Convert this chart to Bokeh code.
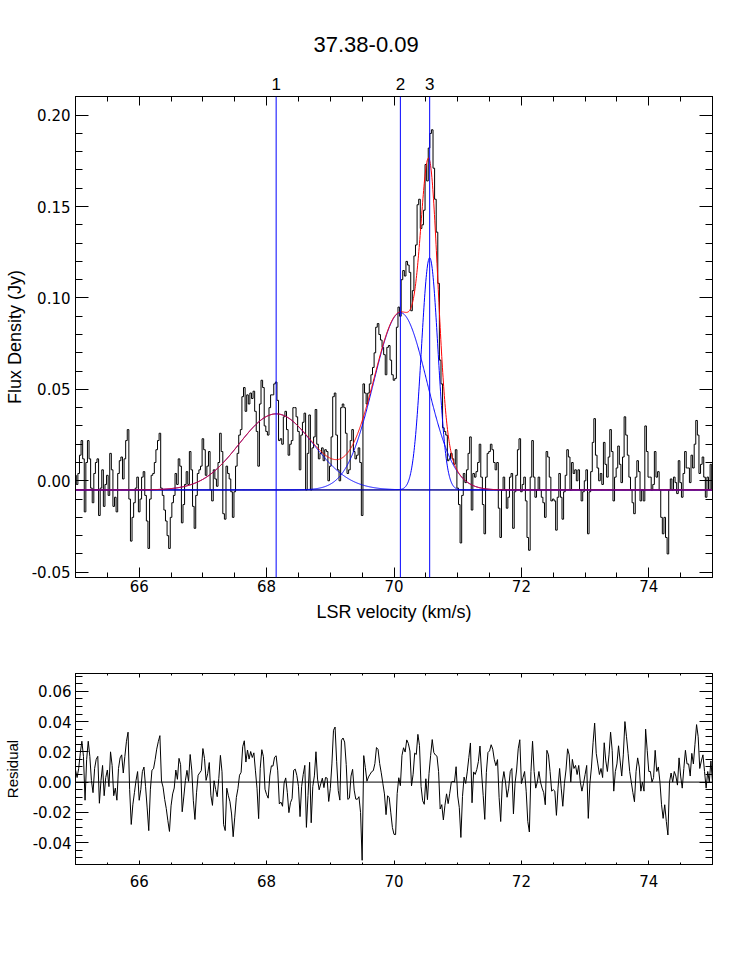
import numpy as np
from bokeh.plotting import figure
from bokeh.models import (Range1d, SingleIntervalTicker, FixedTicker, LinearAxis,
                          NumeralTickFormatter, Span)
from bokeh.layouts import column
from bokeh.embed import file_html
from bokeh.resources import INLINE

# ---------------- data ----------------
V_START = 65.0          # km/s, first channel
CHAN_WIDTH = 0.025      # km/s per channel

flux_65 = [0.003, -0.002, 0.004, 0.014, 0.022, 0.012, -0.017, 0.010, 0.022, 0.012,
           -0.004, -0.012, 0.004, 0.010, 0.012, -0.019, -0.004, 0.006, -0.014, -0.002,
           0.003, -0.008, 0.015, 0.006, -0.014, -0.009, -0.017, 0.004, 0.011, 0.013,
           0.001, 0.012, 0.022, 0.028, -0.010, -0.033, -0.020, -0.012, -0.004, 0.002]
flux_66 = [-0.017, -0.010, 0.002, 0.005, -0.008, -0.022, -0.037, -0.010, 0.003, 0.004,
           0.010, 0.017, 0.022, 0.026, -0.004, -0.008, -0.016, -0.022, -0.030, -0.037,
           -0.020, -0.012, -0.008, 0.004, -0.002, 0.012, 0.008, -0.023, -0.013, -0.002,
           0.005, -0.002, 0.016, 0.006, -0.014, -0.026, -0.008, 0.004, 0.006, 0.008]
flux_67 = [0.023, 0.017, 0.003, 0.008, 0.016, -0.005, -0.011, 0.006, 0.001, -0.003,
           0.010, 0.026, 0.016, -0.018, -0.021, 0.008, 0.004, 0.001, -0.006, -0.020,
           -0.006, 0.008, 0.015, 0.025, 0.028, 0.046, 0.051, 0.038, 0.047, 0.042,
           0.048, 0.045, 0.049, 0.038, 0.027, 0.008, 0.042, 0.055, 0.051, 0.030]
flux_68 = [0.027, 0.025, 0.040, 0.047, 0.047, 0.053, 0.054, 0.044, 0.022, 0.023,
           0.020, 0.035, 0.038, 0.028, 0.014, 0.020, 0.022, 0.040, 0.040, 0.035,
           0.027, 0.006, 0.025, 0.032, 0.037, -0.005, 0.015, 0.036, -0.005, 0.018,
           0.024, 0.039, 0.020, 0.012, 0.015, 0.018, 0.011, 0.017, 0.016, 0.000]
flux_69 = [0.008, 0.024, 0.046, 0.048, 0.025, 0.006, 0.000, 0.040, 0.042, 0.040,
           0.026, 0.004, 0.006, 0.022, 0.028, 0.016, 0.012, 0.014, 0.018, 0.010,
           -0.019, 0.053, 0.048, 0.042, 0.048, 0.053, 0.058, 0.062, 0.070, 0.084,
           0.086, 0.080, 0.077, 0.073, 0.069, 0.058, 0.073, 0.074, 0.066, 0.058]
flux_70 = [0.055, 0.056, 0.084, 0.095, 0.090, 0.110, 0.115, 0.112, 0.120, 0.118,
           0.114, 0.093, 0.104, 0.123, 0.129, 0.151, 0.154, 0.138, 0.140, 0.148,
           0.173, 0.164, 0.182, 0.190, 0.192, 0.171, 0.154, 0.136, 0.108, 0.066,
           0.053, 0.029, 0.027, 0.025, 0.011, 0.012, 0.015, 0.012, 0.009, 0.017]
flux_71 = [-0.004, -0.013, -0.034, -0.008, 0.004, -0.001, 0.006, 0.015, 0.024, -0.016,
           0.004, 0.002, 0.005, 0.010, 0.020, 0.002, -0.013, -0.029, 0.002, 0.015,
           0.016, 0.020, 0.017, 0.010, 0.006, 0.010, -0.015, -0.031, -0.005, 0.002,
           -0.005, -0.015, -0.009, 0.002, 0.004, -0.026, -0.006, 0.003, 0.017, 0.023]
flux_72 = [-0.006, -0.002, 0.002, -0.011, -0.031, -0.038, 0.002, 0.022, 0.002, -0.009,
           -0.005, 0.002, -0.005, -0.009, -0.012, -0.020, 0.016, 0.013, 0.002, -0.011,
           -0.010, -0.011, -0.027, -0.009, 0.004, -0.009, -0.021, -0.006, 0.003, 0.017,
           0.013, -0.005, 0.010, 0.004, 0.006, 0.000, 0.006, -0.005, -0.011, -0.006]
flux_73 = [0.000, 0.006, -0.029, -0.006, 0.005, 0.021, 0.034, 0.014, 0.007, 0.000,
           0.004, -0.002, 0.021, 0.009, 0.002, 0.013, 0.028, 0.016, -0.011, 0.002,
           0.007, 0.019, 0.009, -0.001, 0.013, 0.035, 0.025, 0.014, 0.002, -0.005,
           -0.012, -0.018, 0.002, 0.011, 0.005, -0.011, -0.005, -0.011, 0.030, 0.016]
flux_74 = [0.002, 0.002, -0.005, -0.002, 0.016, 0.002, 0.005, -0.005, -0.020, -0.029,
           -0.020, -0.031, -0.040, -0.005, 0.001, -0.005, 0.002, -0.001, -0.007, 0.011,
           -0.001, -0.009, 0.004, 0.016, 0.007, 0.007, -0.001, 0.014, 0.007, 0.020,
           0.033, 0.025, 0.004, 0.009, 0.013, 0.002, -0.009, 0.002, -0.005, 0.009]
flux_75 = [-0.005]

# Gaussian fit: baseline + three components
baseline = -0.005
comp_labels = ["1", "2", "3"]
comp_center = [68.15, 70.10, 70.56]
comp_amp = [0.0416, 0.097, 0.127]
comp_sigma = [0.58, 0.42, 0.13]

title_text = "37.38-0.09"
x_label = "LSR velocity (km/s)"
y_label_top = "Flux Density (Jy)"
y_label_bottom = "Residual"

# axis ranges and tick spacing
X_RANGE = (65.0, 75.0)
Y_RANGE_TOP = (-0.0529, 0.2102)
Y_RANGE_RES = (-0.0545, 0.0718)
X_MAJOR, X_MINOR = 2.0, 0.5
YT_MAJOR, YT_MINOR = 0.05, 0.01
YR_MAJOR, YR_MINOR = 0.02, 0.005

# ---------------- derived ----------------
flux = np.array(flux_65 + flux_66 + flux_67 + flux_68 + flux_69 + flux_70 +
                flux_71 + flux_72 + flux_73 + flux_74 + flux_75)
vel = V_START + CHAN_WIDTH * np.arange(len(flux))


def gauss(v, a, c, s):
    return a * np.exp(-0.5 * ((v - c) / s) ** 2)


vfine = np.linspace(X_RANGE[0], X_RANGE[1], 2001)
comps_fine = [baseline + gauss(vfine, a, c, s)
              for a, c, s in zip(comp_amp, comp_center, comp_sigma)]
model_fine = baseline + sum(gauss(vfine, a, c, s)
                            for a, c, s in zip(comp_amp, comp_center, comp_sigma))
model_chan = baseline + sum(gauss(vel, a, c, s)
                            for a, c, s in zip(comp_amp, comp_center, comp_sigma))
resid = flux - model_chan

FONT = "Liberation Sans"
TICK_FONT = "DejaVu Sans"
TICK_FS = "15px"


def style_axis(ax, tick_len, minor_len, standoff, label_fs, show_labels=True):
    ax.axis_line_color = "black"
    ax.axis_line_width = 1
    ax.major_tick_line_color = "black"
    ax.minor_tick_line_color = "black"
    ax.major_tick_in = tick_len
    ax.major_tick_out = 0
    ax.minor_tick_in = minor_len
    ax.minor_tick_out = 0
    ax.major_label_text_font = TICK_FONT
    ax.major_label_text_color = "black"
    ax.major_label_standoff = standoff
    ax.major_label_text_font_size = TICK_FS if show_labels else "0px"
    ax.axis_label_text_font = FONT
    ax.axis_label_text_font_size = label_fs
    ax.axis_label_text_font_style = "normal"
    ax.axis_label_text_color = "black"


def x_ticker():
    return SingleIntervalTicker(interval=X_MAJOR, num_minor_ticks=int(round(X_MAJOR / X_MINOR)))


# ---------------- top panel ----------------
p1 = figure(frame_width=637, frame_height=481,
            x_range=Range1d(*X_RANGE), y_range=Range1d(*Y_RANGE_TOP),
            output_backend="svg", toolbar_location=None,
            min_border_left=74, min_border_right=20, min_border_top=96,
            min_border_bottom=63, title=title_text)
p1.grid.visible = False
p1.outline_line_color = "black"
p1.title.align = "left"
p1.title.offset = 238
p1.title.text_font = FONT
p1.title.text_font_size = "22px"
p1.title.text_font_style = "normal"
p1.title.text_color = "black"
p1.title.standoff = 45

xt1 = x_ticker()
yt1 = SingleIntervalTicker(interval=YT_MAJOR, num_minor_ticks=int(round(YT_MAJOR / YT_MINOR)))
xa = p1.xaxis[0]
xa.ticker = xt1
style_axis(xa, 10, 5, 2, "18px")
xa.axis_label = x_label
xa.axis_label_standoff = 7
ya = p1.yaxis[0]
ya.ticker = yt1
ya.formatter = NumeralTickFormatter(format="0.00")
style_axis(ya, 13, 7, 5, "18px")
ya.axis_label = y_label_top
ya.axis_label_standoff = 4

# mirrored tick axes (ticks only) on the right and top edges
right1 = LinearAxis(ticker=yt1)
style_axis(right1, 13, 7, 0, "15px", show_labels=False)
p1.add_layout(right1, "right")
top1 = LinearAxis(ticker=xt1)
style_axis(top1, 9, 5, 0, "15px", show_labels=False)
p1.add_layout(top1, "above")

lab1 = LinearAxis(ticker=FixedTicker(ticks=comp_center, minor_ticks=[]),
                  major_label_overrides={c: l for c, l in zip(comp_center, comp_labels)})
style_axis(lab1, 0, 0, 7, "15px")
lab1.major_label_text_font = FONT
lab1.major_label_text_font_size = "17px"
lab1.axis_line_color = None
lab1.major_tick_line_color = None
lab1.minor_tick_line_color = None
p1.add_layout(lab1, "above")

p1.add_layout(Span(location=baseline, dimension="width", line_color="black",
                   line_width=1, level="underlay"))
p1.step(vel, flux, mode="center", line_color="black", line_width=1)
for cf in comps_fine:
    p1.line(vfine, cf, line_color="blue", line_width=1)
p1.line(vfine, model_fine, line_color="red", line_width=1)
for c in comp_center:
    p1.add_layout(Span(location=c, dimension="height", line_color="blue", line_width=1))

# ---------------- residual panel ----------------
p2 = figure(frame_width=637, frame_height=191,
            x_range=Range1d(*X_RANGE), y_range=Range1d(*Y_RANGE_RES),
            output_backend="svg", toolbar_location=None,
            min_border_left=74, min_border_right=20, min_border_top=33,
            min_border_bottom=40)
p2.grid.visible = False
p2.outline_line_color = "black"
xt2 = x_ticker()
yt2 = SingleIntervalTicker(interval=YR_MAJOR, num_minor_ticks=int(round(YR_MAJOR / YR_MINOR)))
xb = p2.xaxis[0]
xb.ticker = xt2
style_axis(xb, 4, 2, 10, "15px")
yb = p2.yaxis[0]
yb.ticker = yt2
yb.formatter = NumeralTickFormatter(format="0.00")
style_axis(yb, 13, 7, 4, "15px")
yb.axis_label = y_label_bottom
yb.axis_label_standoff = 9

right2 = LinearAxis(ticker=yt2)
style_axis(right2, 13, 7, 0, "15px", show_labels=False)
p2.add_layout(right2, "right")
top2 = LinearAxis(ticker=xt2)
style_axis(top2, 4, 2, 0, "15px", show_labels=False)
p2.add_layout(top2, "above")

p2.add_layout(Span(location=0, dimension="width", line_color="black",
                   line_width=1, level="underlay"))
p2.line(vel, resid, line_color="black", line_width=1)

layout = column(p1, p2, spacing=0)
open("out.html", "w").write(file_html(layout, INLINE))
